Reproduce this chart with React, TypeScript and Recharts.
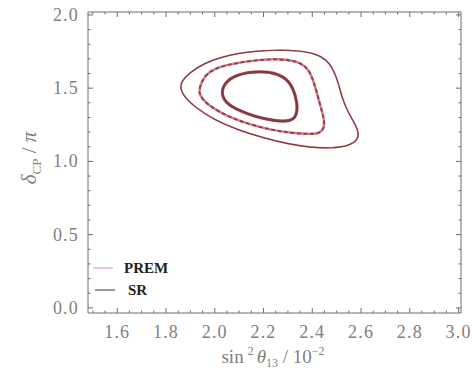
import { LineChart, Line, XAxis, YAxis, Legend } from "recharts";

// contour points: sin^2(theta13) [1e-2] vs deltaCP [pi]
const outerContour = [
  { x: 1.853, y: 1.533 }, { x: 1.902, y: 1.613 }, { x: 1.957, y: 1.67 }, { x: 2.026, y: 1.711 },
  { x: 2.094, y: 1.738 }, { x: 2.177, y: 1.754 }, { x: 2.26, y: 1.761 }, { x: 2.342, y: 1.756 },
  { x: 2.411, y: 1.738 }, { x: 2.459, y: 1.695 }, { x: 2.487, y: 1.627 }, { x: 2.506, y: 1.54 },
  { x: 2.521, y: 1.442 }, { x: 2.542, y: 1.351 }, { x: 2.57, y: 1.271 }, { x: 2.59, y: 1.205 },
  { x: 2.588, y: 1.148 }, { x: 2.549, y: 1.105 }, { x: 2.48, y: 1.09 }, { x: 2.398, y: 1.094 },
  { x: 2.301, y: 1.119 }, { x: 2.205, y: 1.158 }, { x: 2.094, y: 1.215 }, { x: 1.998, y: 1.283 },
  { x: 1.915, y: 1.374 }, { x: 1.867, y: 1.454 },
];

const middleContour = [
  { x: 1.936, y: 1.499 }, { x: 1.957, y: 1.585 }, { x: 2.0, y: 1.636 }, { x: 2.067, y: 1.665 },
  { x: 2.149, y: 1.688 }, { x: 2.232, y: 1.699 }, { x: 2.3, y: 1.695 }, { x: 2.35, y: 1.675 },
  { x: 2.385, y: 1.63 }, { x: 2.405, y: 1.55 }, { x: 2.42, y: 1.46 }, { x: 2.435, y: 1.37 },
  { x: 2.448, y: 1.29 }, { x: 2.45, y: 1.235 }, { x: 2.435, y: 1.195 }, { x: 2.398, y: 1.185 },
  { x: 2.315, y: 1.193 }, { x: 2.232, y: 1.215 }, { x: 2.15, y: 1.249 }, { x: 2.053, y: 1.306 },
  { x: 1.97, y: 1.385 }, { x: 1.936, y: 1.454 },
];

const innerContour = [
  { x: 2.026, y: 1.46 }, { x: 2.039, y: 1.535 }, { x: 2.085, y: 1.59 }, { x: 2.155, y: 1.613 },
  { x: 2.225, y: 1.613 }, { x: 2.285, y: 1.579 }, { x: 2.32, y: 1.511 }, { x: 2.34, y: 1.397 },
  { x: 2.336, y: 1.306 }, { x: 2.308, y: 1.272 }, { x: 2.246, y: 1.276 }, { x: 2.163, y: 1.306 },
  { x: 2.094, y: 1.351 }, { x: 2.046, y: 1.398 },
];

const xMajorTicks = [1.6, 1.8, 2.0, 2.2, 2.4, 2.6, 2.8, 3.0];
const yMajorTicks = [0.0, 0.5, 1.0, 1.5, 2.0];
const legendNames = ["PREM", "SR"];

const PREM_COLOR = "#e07a82";
const SR_COLOR = "#5e2a2e";
const AXIS = "#6e6e6e";
const LABEL = "#808080";
const FONT = "'Liberation Serif', 'DejaVu Serif', serif";

const xTicks: number[] = [];
for (let v = 1.5; v <= 3.0001; v += 0.05) xTicks.push(Math.round(v * 100) / 100);
const yTicks: number[] = [];
for (let v = 0; v <= 2.0001; v += 0.1) yTicks.push(Math.round(v * 10) / 10);

const isMajor = (v: number, majors: number[]) => majors.some((m) => Math.abs(m - v) < 1e-6);

const BottomTick = (props: any) => {
  const { x, y, payload } = props;
  const major = isMajor(payload.value, xMajorTicks);
  return (
    <g>
      <line x1={x} x2={x} y1={y} y2={y - (major ? 5 : 2.5)} stroke={AXIS} />
      {major && (
        <text x={x} y={y + 25} textAnchor="middle" fill={LABEL} fontSize={18} fontFamily={FONT} letterSpacing={1.2}>
          {payload.value.toFixed(1)}
        </text>
      )}
    </g>
  );
};

const TopTick = (props: any) => {
  const { x, y, payload } = props;
  const major = isMajor(payload.value, xMajorTicks);
  return <line x1={x} x2={x} y1={y} y2={y + (major ? 5 : 2.5)} stroke={AXIS} />;
};

const LeftTick = (props: any) => {
  const { x, y, payload } = props;
  const major = isMajor(payload.value, yMajorTicks);
  return (
    <g>
      <line x1={x} x2={x + (major ? 5 : 2.5)} y1={y} y2={y} stroke={AXIS} />
      {major && (
        <text x={x - 9} y={y + 6} textAnchor="end" fill={LABEL} fontSize={18} fontFamily={FONT} letterSpacing={1.2}>
          {payload.value.toFixed(1)}
        </text>
      )}
    </g>
  );
};

const RightTick = (props: any) => {
  const { x, y, payload } = props;
  const major = isMajor(payload.value, yMajorTicks);
  return <line x1={x} x2={x - (major ? 5 : 2.5)} y1={y} y2={y} stroke={AXIS} />;
};

const XTitle = () => (
  <text x={273} y={363} textAnchor="middle" fill={LABEL} fontSize={19} fontFamily={FONT}>
    <tspan>sin</tspan>
    <tspan fontSize={12} dy={-8} dx={4}>2</tspan>
    <tspan fontStyle="italic" dy={8} dx={3}>θ</tspan>
    <tspan fontSize={12} dy={4}>13</tspan>
    <tspan dy={-4}> / 10</tspan>
    <tspan fontSize={12} dy={-8}>−2</tspan>
  </text>
);

const YTitle = () => (
  <text x={0} y={0} transform="translate(36,158) rotate(-90)" textAnchor="middle" fill={LABEL} fontSize={21} fontFamily={FONT}>
    <tspan fontStyle="italic">δ</tspan>
    <tspan fontSize={13} dy={5}>CP</tspan>
    <tspan dy={-5}> / </tspan>
    <tspan fontStyle="italic">π</tspan>
  </text>
);

const renderLegend = () => (
  <div style={{ fontFamily: FONT, fontSize: 15, color: "#222", fontWeight: 600 }}>
    {legendNames.map((name, i) => (
      <div key={name} style={{ display: "flex", alignItems: "center", height: 22, marginLeft: i === 1 ? 2 : 0 }}>
        <svg width={30} height={10}>
          <line x1={2} x2={22} y1={5} y2={5} stroke={i === 0 ? "#f0a0a4" : "#555"} strokeWidth={1.2} />
        </svg>
        <span style={{ marginLeft: i === 0 ? 3 : 5 }}>{name}</span>
      </div>
    ))}
  </div>
);

export default function App() {
  return (
    <div style={{ position: "absolute", left: 0, top: 0, width: 472, height: 373, background: "#fff" }}>
      <LineChart width={472} height={373} margin={{ top: 0, right: 0, bottom: 0, left: 0 }}>
        <XAxis
          xAxisId={0}
          dataKey="x"
          type="number"
          domain={[1.48, 3.01]}
          allowDataOverflow
          ticks={xTicks}
          interval={0}
          tickSize={0}
          tickMargin={0}
          tick={<BottomTick />}
          height={60}
          stroke={AXIS}
          label={{ content: <XTitle /> }}
        />
        <XAxis
          xAxisId="top"
          orientation="top"
          dataKey="x"
          type="number"
          domain={[1.48, 3.01]}
          allowDataOverflow
          ticks={xTicks}
          interval={0}
          tickSize={0}
          tickMargin={0}
          tick={<TopTick />}
          height={12}
          stroke={AXIS}
        />
        <YAxis
          yAxisId={0}
          type="number"
          domain={[-0.035, 2.02]}
          allowDataOverflow
          ticks={yTicks}
          interval={0}
          tickSize={0}
          tickMargin={0}
          tick={<LeftTick />}
          width={88}
          stroke={AXIS}
          label={{ content: <YTitle /> }}
        />
        <YAxis
          yAxisId="right"
          orientation="right"
          type="number"
          domain={[-0.035, 2.02]}
          allowDataOverflow
          ticks={yTicks}
          interval={0}
          tickSize={0}
          tickMargin={0}
          tick={<RightTick />}
          width={11}
          stroke={AXIS}
        />
        <Legend
          layout="vertical"
          align="center"
          verticalAlign="middle"
          content={renderLegend}
          wrapperStyle={{ left: 91, top: 257, width: 120 }}
        />
        <Line data={outerContour} dataKey="y" type="basisClosed" stroke={PREM_COLOR} strokeWidth={1.6} dot={false} isAnimationActive={false} />
        <Line data={middleContour} dataKey="y" type="basisClosed" stroke={PREM_COLOR} strokeWidth={2.4} dot={false} isAnimationActive={false} />
        <Line data={innerContour} dataKey="y" type="basisClosed" stroke={PREM_COLOR} strokeWidth={3.2} dot={false} isAnimationActive={false} />
        <Line data={outerContour} dataKey="y" type="basisClosed" stroke={SR_COLOR} strokeOpacity={0.75} strokeWidth={1.2} dot={false} isAnimationActive={false} />
        <Line data={middleContour} dataKey="y" type="basisClosed" stroke={SR_COLOR} strokeOpacity={0.65} strokeWidth={2} strokeDasharray="4 2.5" dot={false} isAnimationActive={false} />
        <Line data={innerContour} dataKey="y" type="basisClosed" stroke={SR_COLOR} strokeOpacity={0.75} strokeWidth={2.6} dot={false} isAnimationActive={false} />
      </LineChart>
    </div>
  );
}
